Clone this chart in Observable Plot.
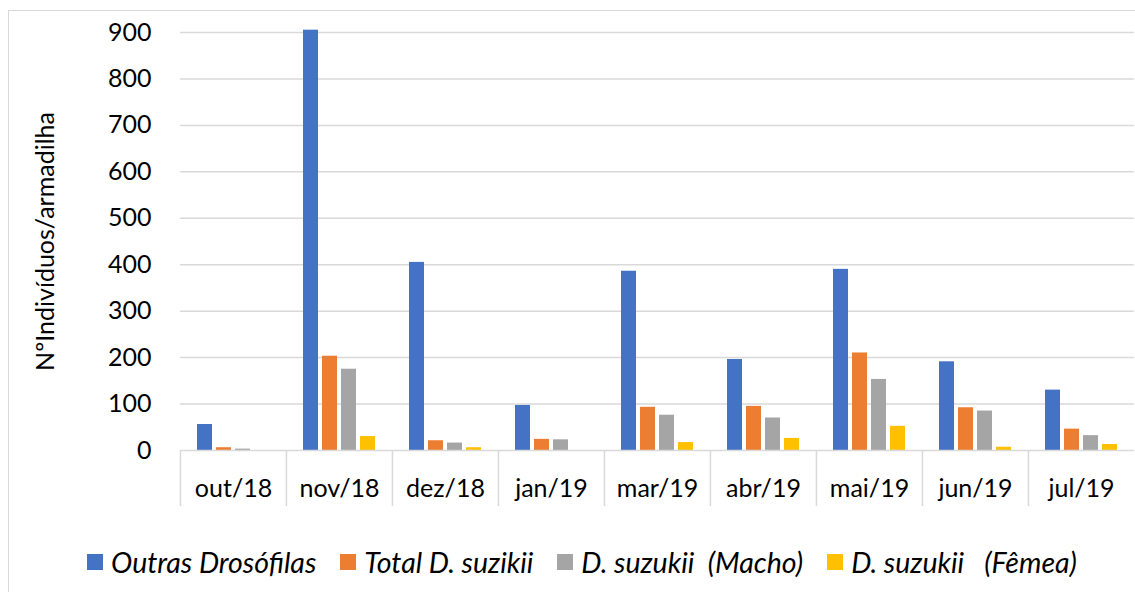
<!DOCTYPE html>
<html><head><meta charset="utf-8">
<script src="https://cdn.jsdelivr.net/npm/d3@7"></script>
<script src="https://cdn.jsdelivr.net/npm/@observablehq/plot@0.6"></script>
<style>
html,body{margin:0;padding:0;background:#fff;overflow:hidden;width:1135px;height:592px}
#frame{position:absolute;left:8px;top:10px;width:1200px;height:700px;border:1.5px solid #d9d9d9;box-sizing:border-box}
#chart{position:absolute;left:0;top:0}
#legend{position:absolute;left:0;top:545px;width:1135px}
#legend > div{font-family:Lato,sans-serif !important;font-size:28.5px !important;font-style:italic;color:#000;margin-left:87px !important;min-height:32px;height:32px;display:flex;align-items:center;white-space:pre}
#legend > div > span{margin-right:24px !important;white-space:pre}
#legend > div > span > svg{margin-right:8px !important}
</style></head><body>
<div id="frame"></div><div id="chart"></div><div id="legend"></div>
<script>
const months = ["out/18","nov/18","dez/18","jan/19","mar/19","abr/19","mai/19","jun/19","jul/19"];
const series = ["Outras Drosófilas","Total D. suzikii","D. suzukii  (Macho)","D. suzukii   (Fêmea)"];
const outras = [56,905,405,97,386,196,390,191,130];
const totalSuz = [6,203,21,24,93,95,210,92,46];
const macho = [3,175,16,23,76,70,153,85,32];
const femea = [0,30,6,0,17,26,52,7,13];
const colors = ["#4472C4","#ED7D31","#A5A5A5","#FFC000"];
const yTicks = [0,100,200,300,400,500,600,700,800,900];

const seriesValues = [outras,totalSuz,macho,femea];
const data = months.flatMap((m,i)=>series.map((s,j)=>({month:m, series:s, value:seriesValues[j][i]})));

const W=1135, H=520, ML=179, MR=1, MT=32, MB=70;
const band = (W-ML-MR)/months.length;

const chart = Plot.plot({
  width:W, height:H, marginLeft:ML, marginRight:MR, marginTop:MT, marginBottom:MB,
  style:{fontFamily:"Lato, sans-serif", fontSize:"24px", color:"#000", background:"transparent"},
  fx:{domain:months, padding:0, label:null, axis:null},
  x:{domain:series, paddingInner:0.22, paddingOuter:0.855, axis:null},
  y:{domain:[0,900], label:null, axis:null},
  color:{domain:series, range:colors},
  marks:[
    Plot.gridY(yTicks.filter(d=>d>0), {stroke:"#d9d9d9", strokeOpacity:1, strokeWidth:1.5}),
    Plot.barY(data,{fx:"month", x:"series", y:"value", fill:"series"}),
    Plot.ruleY([0], {stroke:"#d9d9d9", strokeWidth:1.5}),
    Plot.axisY(yTicks, {anchor:"left", tickSize:0, tickPadding:29, label:"NºIndivíduos/armadilha", labelArrow:"none", labelAnchor:"center", labelOffset:144, fontSize:25}),
    Plot.axisFx({anchor:"bottom", tickSize:0, tickPadding:29, label:null, fontSize:25}),
    Plot.axisFx({anchor:"bottom", tickSize:56, tickFormat:()=>"", dx:-band/2, stroke:"#d9d9d9", strokeWidth:1.5, strokeOpacity:1, label:null})
  ]
});
document.getElementById("chart").appendChild(chart);

const leg = Plot.legend({color:{domain:series, range:colors}, legend:"swatches", swatchSize:16, className:"lg"});
document.getElementById("legend").appendChild(leg);
</script>
</body></html>
